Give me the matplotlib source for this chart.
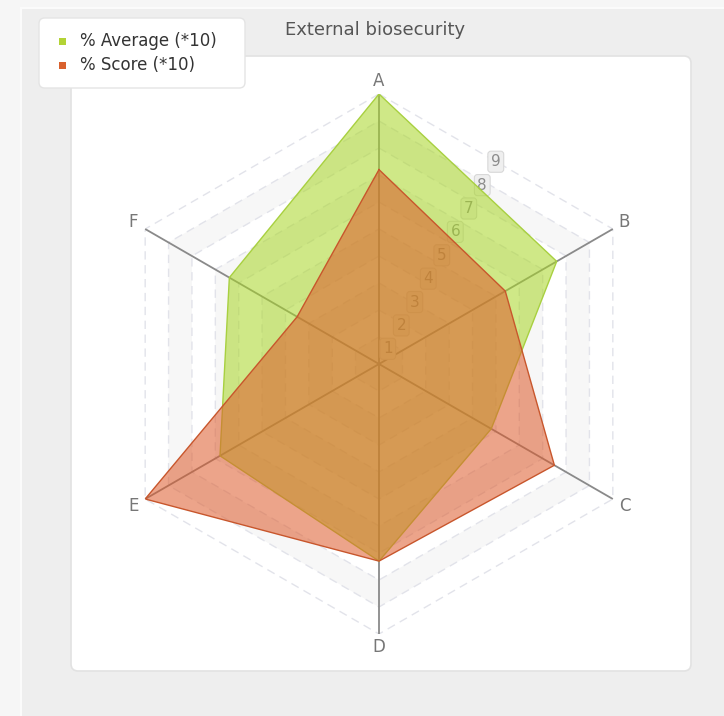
import numpy as np
import matplotlib
matplotlib.use('Agg')
import matplotlib.pyplot as plt
from matplotlib.patches import FancyBboxPatch, Rectangle

# chart data
categories = ['A', 'B', 'C', 'D', 'E', 'F']
average = [10, 7.6, 4.8, 7.3, 6.8, 6.4]
score = [7.2, 5.4, 7.5, 7.3, 10, 3.5]
levels = [1, 2, 3, 4, 5, 6, 7, 8, 9]
title = 'External biosecurity'
series_names = ['% Average (*10)', '% Score (*10)']

W, H = 724, 716
fig = plt.figure(figsize=(W / 100, H / 100), dpi=100)
fig.patch.set_facecolor('#f6f6f6')


def px(x, y, w, h):
    # pixel box (top-left origin) -> figure fraction
    return x / W, 1 - (y + h) / H, w / W, h / H


# background frames (behind the axes)
x0, y0, w0, h0 = px(21, 8, 720, 720)
fig.patches.append(Rectangle((x0, y0), w0, h0, transform=fig.transFigure,
                             facecolor='#eeeeee', edgecolor='#fbfbfb', lw=1.5,
                             zorder=-10))
x0, y0, w0, h0 = px(71, 56, 620, 615)
fig.patches.append(FancyBboxPatch((x0, y0), w0, h0, transform=fig.transFigure,
                                  boxstyle='round,pad=0,rounding_size=0.01',
                                  facecolor='white', edgecolor='#e2e2e2', lw=1.2,
                                  zorder=-9))

fig.text(375 / W, 1 - 30 / H, title, ha='center', va='center',
         fontsize=13, color='#555555')

# radar axes: centre (379, 364), radius 270 px for value 10
cx, cy, R = 379, 364, 270
ax = fig.add_axes(px(cx - R, cy - R, 2 * R, 2 * R), projection='polar')
ax.set_theta_zero_location('N')
ax.set_theta_direction(-1)
ax.set_ylim(0, 10)
ax.patch.set_visible(False)
ax.grid(False)
ax.spines['polar'].set_visible(False)
ax.set_xticks([])
ax.set_yticks([])

n = len(categories)
theta = np.linspace(0, 2 * np.pi, n, endpoint=False)
theta_c = np.append(theta, theta[0])

# banded hexagonal grid
for k in range(10, 0, -1):
    ax.fill(theta_c, [k] * (n + 1), color='#f7f7f7' if k % 2 == 1 else 'white',
            lw=0, zorder=1)
for k in range(1, 11):
    ax.plot(theta_c, [k] * (n + 1), color='#e2e3ea', lw=1, ls=(0, (6, 4)), zorder=2)

# spokes and labels
for t, c in zip(theta, categories):
    ax.plot([t, t], [0, 10], color='#8a8a8a', lw=1.3, zorder=3)
    ax.text(t, 10.5, c, ha='center', va='center', fontsize=12, color='#777777')

for k in levels:
    ax.text(np.radians(30), k - 0.35, str(k), ha='center', va='center',
            fontsize=11, color='#8c8c8c', zorder=3,
            bbox=dict(boxstyle='round,pad=0.2', facecolor='#efefef',
                      edgecolor='#d8d8d8', lw=0.8))

avg_c = np.append(average, average[0])
sc_c = np.append(score, score[0])
ax.fill(theta_c, avg_c, color='#a8d624', alpha=0.55, lw=0, zorder=4)
ax.plot(theta_c, avg_c, color='#a8d040', lw=1, zorder=4)
ax.fill(theta_c, sc_c, color='#dd5a2a', alpha=0.55, lw=0, zorder=5)
ax.plot(theta_c, sc_c, color='#c8562c', lw=1, zorder=5)

# legend box
x0, y0, w0, h0 = px(39, 18, 206, 70)
fig.patches.append(FancyBboxPatch((x0, y0), w0, h0, transform=fig.transFigure,
                                  boxstyle='round,pad=0,rounding_size=0.008',
                                  facecolor='white', edgecolor='#e4e4e4', lw=1,
                                  zorder=5))
for i, (name, col) in enumerate(zip(series_names, ['#b3d335', '#d9612e'])):
    yy = 41 + i * 24
    fig.patches.append(Rectangle((59 / W, 1 - (yy + 4) / H), 7 / W, 7 / H,
                                 transform=fig.transFigure, facecolor=col, lw=0,
                                 zorder=6))
    fig.text(80 / W, 1 - yy / H, name, ha='left', va='center',
             fontsize=12, color='#333333', zorder=7)

fig.savefig('out.png', dpi=100)
